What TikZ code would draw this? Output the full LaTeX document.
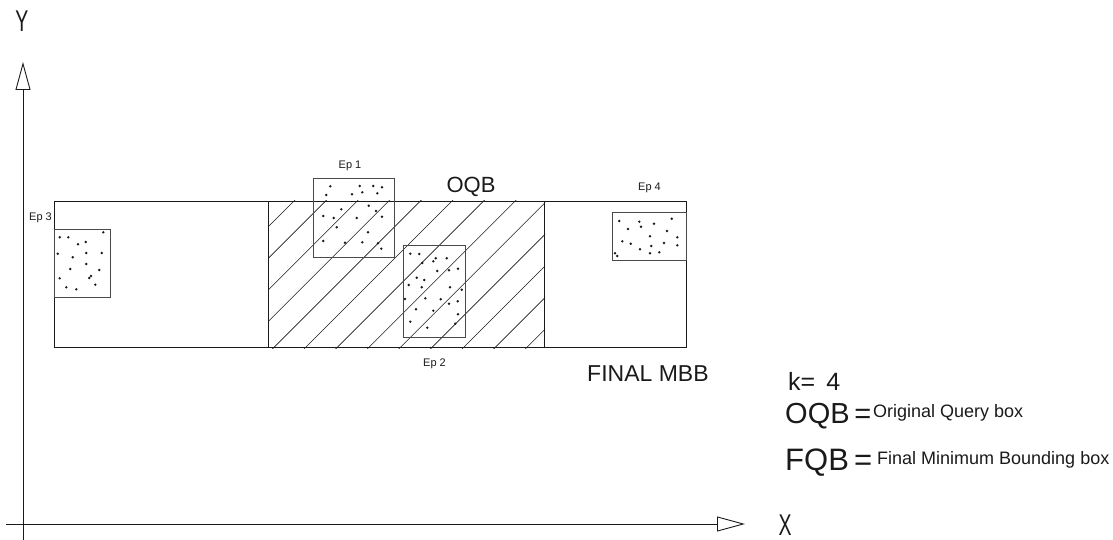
\documentclass[tikz,border=0pt]{standalone}
\usepackage{fontspec}
\setmainfont{Liberation Sans}
\newfontfamily\axfont[FakeStretch=0.65]{Liberation Sans}
\usetikzlibrary{arrows.meta,positioning}
\definecolor{ink}{HTML}{1A1A1A}
\definecolor{frame}{HTML}{4A4A4A}
\tikzset{
  axis/.style={line width=0.9pt,color=ink,-{Triangle[open,length=28pt,width=15pt,line width=0.9pt]}},
  mbb/.style={draw=ink,line width=1pt,inner sep=0pt,anchor=north west},
  epbox/.style={draw=frame,line width=1pt,inner sep=0pt,anchor=north west},
  hatch/.style={line width=0.6pt,color=ink},
  pt/.style={fill=ink},
  eplbl/.style={font=\fontsize{11}{11}\selectfont,inner sep=0pt,color=ink},
  biglbl/.style={font=\fontsize{22}{22}\selectfont,inner sep=0pt,color=ink},
  keylbl/.style={inner sep=0pt,anchor=base west,color=ink},
  desclbl/.style={font=\fontsize{18}{18}\selectfont,inner sep=0pt,anchor=base west,color=ink},
  axlbl/.style={font=\axfont\fontsize{30}{30}\selectfont,inner sep=0pt,color=ink}}

\begin{document}
\begin{tikzpicture}[x=1pt,y=-1pt]
\useasboundingbox (0,0) rectangle (1113,540);
\coordinate (yfoot) at (23,540);
\coordinate (ytip) at (23,62);
\coordinate (xfoot) at (6,524);
\coordinate (xtip) at (745,524);
\draw[axis] (yfoot) -- (ytip);
\draw[axis] (xfoot) -- (xtip);
\node[axlbl] (ylbl) at (22,21) {Y};
\node[axlbl] (xlbl) at (785,525) {X};

\node[mbb,minimum width=276pt,minimum height=146pt] (oqb) at (268,201) {};
\begin{scope}
\clip (oqb.south west) rectangle (oqb.north east);
\foreach \k [evaluate=\k as \c using 495+31.6*\k] in {0,...,12}
  \draw[hatch] ({\c-360},360) -- ({\c-190},190);
\end{scope}
\node[mbb,minimum width=632pt,minimum height=146pt] (final) at (54,201) {};

\node[epbox,minimum width=81pt,minimum height=79pt] (ep1) at (313,178) {};
\node[epbox,minimum width=62pt,minimum height=92pt] (ep2) at (403,245) {};
\node[epbox,minimum width=56pt,minimum height=68pt] (ep3) at (54,229) {};
\node[epbox,minimum width=74pt,minimum height=48pt] (ep4) at (612,212) {};

\foreach \p in {(330.3,186.3),(359.7,186),(373.3,186),(382,187.3),(326.3,195),(352,194.3),(362.3,192.3),(377.3,193.3),(368.7,205.7),(341.3,209.3),(376,211),(323.3,216),(333.7,218),(356.7,218),(382,216.7),(336.7,227.3),(368,232.3),(323.3,241),(345,242.7),(362.3,242.3),(378,243.3),(381.3,248.7)}
  \fill[pt] \p circle (1.35pt);
\foreach \p in {(410.3,253.7),(419.3,254),(435.7,258.3),(433.3,261.3),(446.7,258.3),(422.3,263),(437.3,271),(449,270.3),(458,268.7),(416.7,277.7),(424.3,280),(408.7,285),(421.7,287.3),(450,287.3),(461.7,289.7),(405,299),(425.3,298.3),(440.7,299.3),(449,303.7),(457.7,301.3),(416,309.3),(433.3,310.7),(458,314.3),(410.3,321.7),(455.3,323.7),(427.3,327.7)}
  \fill[pt] \p circle (1.35pt);
\foreach \p in {(59.7,237.3),(68.3,237.3),(103.3,232.3),(78,244.3),(85.7,242),(57.7,253.7),(72.7,257.3),(86.3,253),(101.7,253),(86.3,264),(70.3,269),(99.3,270),(59.7,278.3),(89.3,278),(91,276),(95.3,284.7),(66.3,287.3),(76.3,289.3)}
  \fill[pt] \p circle (1.35pt);
\foreach \p in {(671.7,218.7),(619.3,221),(639.3,221.7),(654,223.7),(641,226.7),(628,229),(667,231),(650,236.3),(677.3,237.3),(622.3,241.3),(630.7,243.7),(664,243),(651.3,246),(677.3,245.3),(640,249.3),(650,253.3),(659.3,252.3),(615,253.3),(617.3,256)}
  \fill[pt] \p circle (1.35pt);

\node[eplbl,above=7pt of ep1.north,xshift=-4pt] (ep1lbl) {Ep 1};
\node[eplbl,below=21pt of ep2.south] (ep2lbl) {Ep 2};
\node[eplbl,anchor=east] (ep3lbl) at (52,218) {Ep 3};
\node[eplbl,above=19pt of ep4.north] (ep4lbl) {Ep 4};
\node[biglbl] (oqblbl) at (471,187) {OQB};
\node[biglbl,anchor=west,font=\fontsize{23}{23}\selectfont] (finallbl) at (587,374) {FINAL MBB};
\node[biglbl,anchor=west,font=\fontsize{25}{25}\selectfont] (klbl) at (788,381) {k= \,4};
\node[keylbl,font=\fontsize{29}{29}\selectfont] (oqbkey) at (785,423) {OQB\,=};
\node[desclbl] (oqbdesc) at (873,417) {Original Query box};
\node[keylbl,font=\fontsize{31}{31}\selectfont] (fqbkey) at (785,470) {FQB\,=};
\node[desclbl] (fqbdesc) at (877,464) {Final Minimum Bounding box};
\end{tikzpicture}
\end{document}
